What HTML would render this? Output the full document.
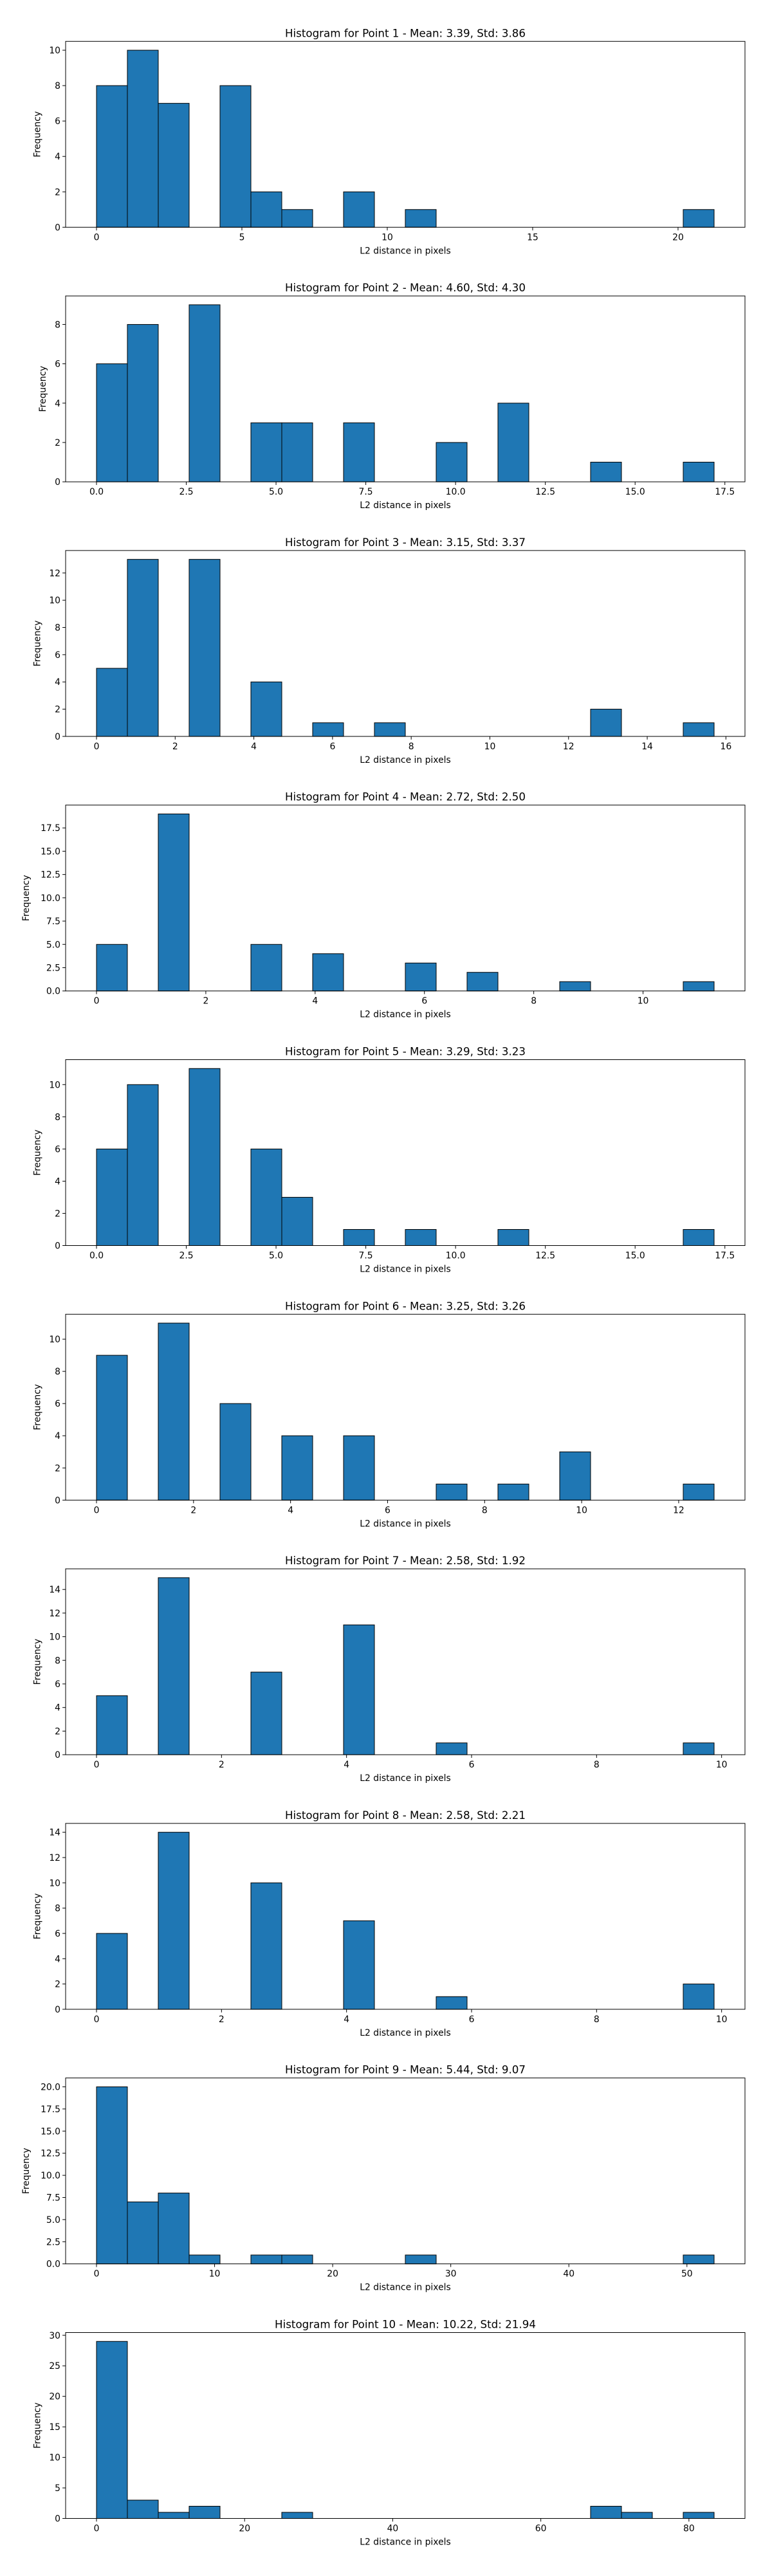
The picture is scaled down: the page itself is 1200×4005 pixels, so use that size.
<!DOCTYPE html>
<html><head><meta charset="utf-8"><style>
html,body{margin:0;padding:0;background:#fff;}
svg text{font-family:"DejaVu Sans","Liberation Sans",sans-serif;fill:#000;}
</style></head>
<body>
<svg id="fig" width="1200" height="4000" xmlns="http://www.w3.org/2000/svg"></svg>
<script>
// Data per panel
const titles = [
 "Histogram for Point 1 - Mean: 3.39, Std: 3.86",
 "Histogram for Point 2 - Mean: 4.60, Std: 4.30",
 "Histogram for Point 3 - Mean: 3.15, Std: 3.37",
 "Histogram for Point 4 - Mean: 2.72, Std: 2.50",
 "Histogram for Point 5 - Mean: 3.29, Std: 3.23",
 "Histogram for Point 6 - Mean: 3.25, Std: 3.26",
 "Histogram for Point 7 - Mean: 2.58, Std: 1.92",
 "Histogram for Point 8 - Mean: 2.58, Std: 2.21",
 "Histogram for Point 9 - Mean: 5.44, Std: 9.07",
 "Histogram for Point 10 - Mean: 10.22, Std: 21.94"
];
const dataMax = [21.24, 17.2, 15.7, 11.3, 17.2, 12.73, 9.88, 9.88, 52.3, 83.4];
const counts1 = [8,10,7,0,8,2,1,0,2,0,1,0,0,0,0,0,0,0,0,1];
const counts2 = [6,8,0,9,0,3,3,0,3,0,0,2,0,4,0,0,1,0,0,1];
const counts3 = [5,13,0,13,0,4,0,1,0,1,0,0,0,0,0,0,2,0,0,1];
const counts4 = [5,0,19,0,0,5,0,4,0,0,3,0,2,0,0,1,0,0,0,1];
const counts5 = [6,10,0,11,0,6,3,0,1,0,1,0,0,1,0,0,0,0,0,1];
const counts6 = [9,0,11,0,6,0,4,0,4,0,0,1,0,1,0,3,0,0,0,1];
const counts7 = [5,0,15,0,0,7,0,0,11,0,0,1,0,0,0,0,0,0,0,1];
const counts8 = [6,0,14,0,0,10,0,0,7,0,0,1,0,0,0,0,0,0,0,2];
const counts9 = [20,7,8,1,0,1,1,0,0,0,1,0,0,0,0,0,0,0,0,1];
const counts10 = [29,3,1,2,0,0,1,0,0,0,0,0,0,0,0,0,2,1,0,1];
const allCounts = [counts1,counts2,counts3,counts4,counts5,counts6,counts7,counts8,counts9,counts10];
const xTickLabels = [
 ["0","5","10","15","20"],
 ["0.0","2.5","5.0","7.5","10.0","12.5","15.0","17.5"],
 ["0","2","4","6","8","10","12","14","16"],
 ["0","2","4","6","8","10"],
 ["0.0","2.5","5.0","7.5","10.0","12.5","15.0","17.5"],
 ["0","2","4","6","8","10","12"],
 ["0","2","4","6","8","10"],
 ["0","2","4","6","8","10"],
 ["0","10","20","30","40","50"],
 ["0","20","40","60","80"]
];
const yTickLabels = [
 ["0","2","4","6","8","10"],
 ["0","2","4","6","8"],
 ["0","2","4","6","8","10","12"],
 ["0.0","2.5","5.0","7.5","10.0","12.5","15.0","17.5"],
 ["0","2","4","6","8","10"],
 ["0","2","4","6","8","10"],
 ["0","2","4","6","8","10","12","14"],
 ["0","2","4","6","8","10","12","14"],
 ["0.0","2.5","5.0","7.5","10.0","12.5","15.0","17.5","20.0"],
 ["0","5","10","15","20","25","30"]
];

const NS = "http://www.w3.org/2000/svg";
const fig = document.getElementById('fig');
function mk(tag, attrs, parent){
  const e = document.createElementNS(NS, tag);
  for (const k in attrs) e.setAttribute(k, attrs[k]);
  parent.appendChild(e);
  return e;
}
const L = 102, R = 1158, AH = 289, TOP0 = 64.3, STEP = 395.8;

for (let p = 0; p < 10; p++) {
  const top = TOP0 + p * STEP, bot = top + AH;
  const counts = allCounts[p];
  const xmax = dataMax[p];
  const ymaxC = Math.max(...counts);
  const xs = v => L + (v + 0.05 * xmax) / (1.1 * xmax) * (R - L);
  const ys = v => bot - v / (1.05 * ymaxC) * AH;

  const g = mk('g', {}, fig);
  
  

  const t = mk('text', {x: (L + R) / 2, y: top - 7, 'text-anchor': 'middle', 'font-size': '16.7'}, g);
  t.textContent = titles[p];
  
  

  const bw = xmax / 20;
  counts.forEach((c, i) => {
    if (c <= 0) return;
    const x0 = xs(i * bw), x1 = xs((i + 1) * bw);
    const r = mk('rect', {x: x0, y: ys(c), width: x1 - x0, height: bot - ys(c), fill: '#1f77b4', stroke: '#000', 'stroke-width': 1}, g);
    
    
  });

  const frame = mk('rect', {x: L, y: top, width: R - L, height: AH, fill: 'none', stroke: '#000', 'stroke-width': 1}, g);
  
  

  xTickLabels[p].forEach(lbl => {
    const v = parseFloat(lbl), x = xs(v);
    mk('line', {x1: x, x2: x, y1: bot, y2: bot + 4.9, stroke: '#000', 'stroke-width': 1}, g);
    const tx = mk('text', {x: x, y: bot + 20, 'text-anchor': 'middle', 'font-size': '13.9'}, g);
    tx.textContent = lbl;
    
    
  });
  yTickLabels[p].forEach(lbl => {
    const v = parseFloat(lbl), y = ys(v);
    mk('line', {x1: L - 4.9, x2: L, y1: y, y2: y, stroke: '#000', 'stroke-width': 1}, g);
    const ty = mk('text', {x: L - 8, y: y + 5, 'text-anchor': 'end', 'font-size': '13.9'}, g);
    ty.textContent = lbl;
    
    
  });

  const xl = mk('text', {x: (L + R) / 2, y: bot + 41, 'text-anchor': 'middle', 'font-size': '13.9'}, g);
  xl.textContent = 'L2 distance in pixels';
  
  

  const yw = yTickLabels[p].reduce((m, s) => Math.max(m, s.length), 0);
  const ylx = L - 22 - yw * 8.8;
  const yl = mk('text', {x: ylx, y: (top + bot) / 2, 'text-anchor': 'middle', 'font-size': '13.9', transform: 'rotate(-90 ' + ylx + ' ' + (top + bot) / 2 + ')'}, g);
  yl.textContent = 'Frequency';
  
  
}
</script>
</body></html>
